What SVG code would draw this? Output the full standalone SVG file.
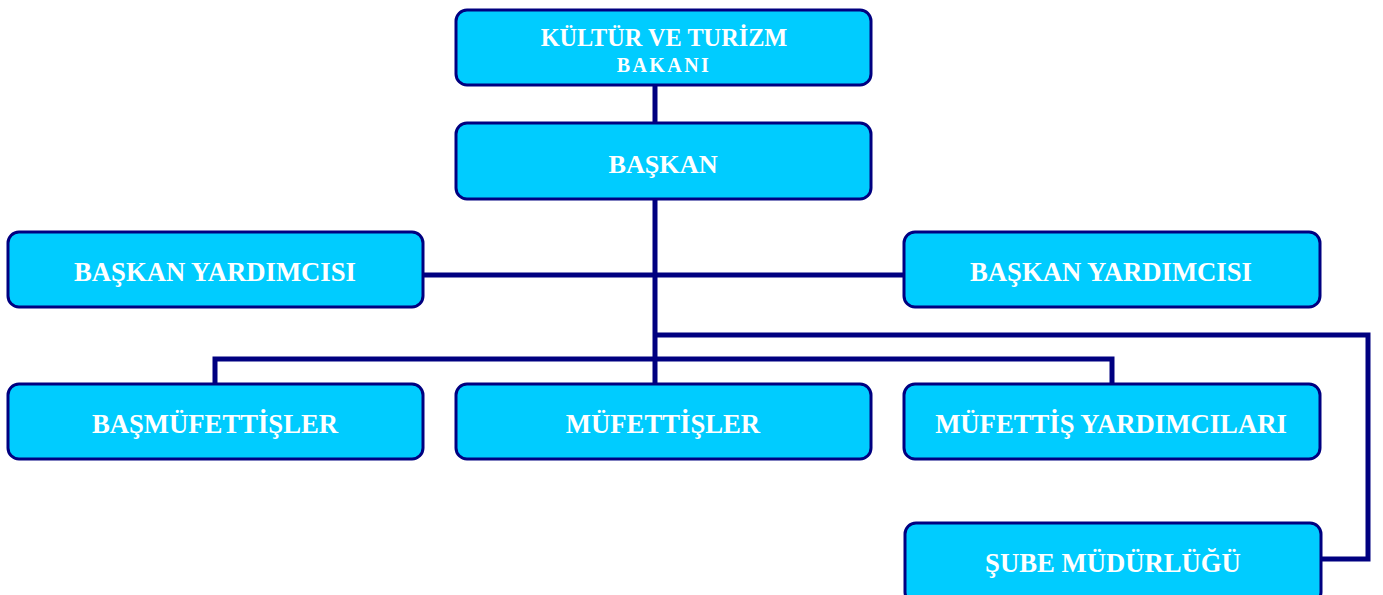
<svg xmlns="http://www.w3.org/2000/svg" width="1383" height="595" viewBox="0 0 1383 595">
<style>
.box{fill:#00CCFF;stroke:#000080;stroke-width:3}
.lbl{font-family:"Liberation Serif","Times New Roman",serif;font-weight:bold;fill:#FFFFFF;font-size:26.7px;text-anchor:middle}
.ln{fill:none;stroke:#000080;stroke-width:5}
</style>
<defs>
<clipPath id="clipTop"><rect x="455" y="10" width="416" height="62.5"/></clipPath>
</defs>
<rect width="1383" height="595" fill="#FFFFFF"/>
<g id="connectors">
<line class="ln" x1="655" y1="85" x2="655" y2="123"/>
<line class="ln" x1="655" y1="199" x2="655" y2="383"/>
<line class="ln" x1="423" y1="275" x2="903" y2="275"/>
<polyline class="ln" points="655,335 1368,335 1368,559 1322,559"/>
<polyline class="ln" points="215,383 215,359 1112,359 1112,383"/>
</g>
<g id="n-bakan">
<rect class="box" x="456" y="10" width="415" height="75" rx="11"/>
<text class="lbl" x="664" y="46" style="font-size:24.3px">KÜLTÜR VE TURİZM</text>
<text class="lbl" x="664" y="72" style="font-size:20px;letter-spacing:2.4px" clip-path="url(#clipTop)">BAKANI</text>
</g>
<g id="n-baskan">
<rect class="box" x="456" y="123" width="415" height="76" rx="11"/>
<text class="lbl" x="663" y="173" style="font-size:26.2px">BAŞKAN</text>
</g>
<g id="n-by-left">
<rect class="box" x="8" y="232" width="415" height="75" rx="11"/>
<text class="lbl" x="215" y="281">BAŞKAN YARDIMCISI</text>
</g>
<g id="n-by-right">
<rect class="box" x="904" y="232" width="416" height="75" rx="11"/>
<text class="lbl" x="1111" y="281">BAŞKAN YARDIMCISI</text>
</g>
<g id="n-basmufettisler">
<rect class="box" x="8" y="384" width="415" height="75" rx="11"/>
<text class="lbl" x="215" y="433">BAŞMÜFETTİŞLER</text>
</g>
<g id="n-mufettisler">
<rect class="box" x="456" y="384" width="415" height="75" rx="11"/>
<text class="lbl" x="663" y="433">MÜFETTİŞLER</text>
</g>
<g id="n-mufettis-yard">
<rect class="box" x="904" y="384" width="416" height="75" rx="11"/>
<text class="lbl" x="1111" y="433">MÜFETTİŞ YARDIMCILARI</text>
</g>
<g id="n-sube">
<rect class="box" x="905" y="523" width="416" height="80" rx="11"/>
<text class="lbl" x="1113" y="572">ŞUBE MÜDÜRLÜĞÜ</text>
</g>
</svg>
